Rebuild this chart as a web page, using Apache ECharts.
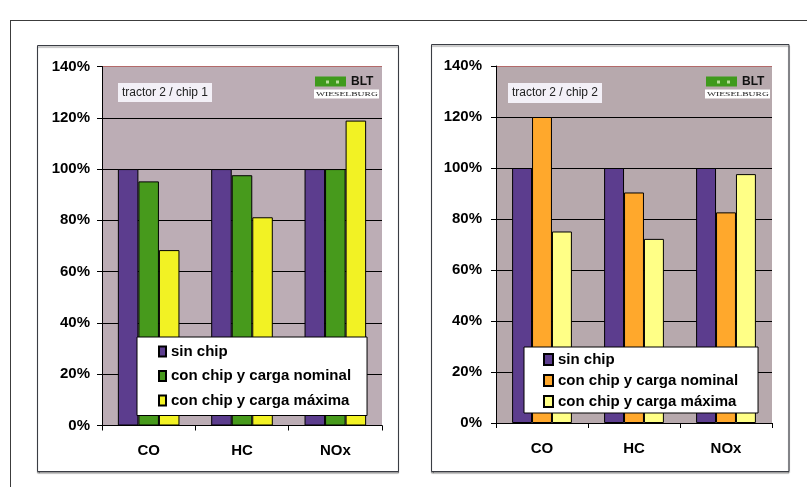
<!DOCTYPE html>
<html>
<head>
<meta charset="utf-8">
<script src="https://cdn.jsdelivr.net/npm/echarts@6/dist/echarts.min.js"></script>
<style>
  html, body { margin: 0; padding: 0; background: #fff; }
  #page { position: relative; width: 807px; height: 487px; overflow: hidden; }
  #frame { position: absolute; left: 10px; top: 20px; width: 900px; height: 600px;
           border: 1px solid #3c3c3c; box-sizing: border-box; }
  .chart { position: absolute; left: 0; top: 0; width: 807px; height: 487px; }
</style>
</head>
<body>
<div id="page">
  <div id="frame"></div>
  <div id="c1" class="chart"></div>
  <div id="c2" class="chart"></div>
</div>
<script>
// Emission categories and series names
const categories = ['CO', 'HC', 'NOx'];
const seriesNames = ['sin chip', 'con chip y carga nominal', 'con chip y carga máxima'];

// Value axis (percent)
const yMin = 0;
const yMax = 140;
const yStep = 20;

// tractor 2 / chip 1
const chip1SinChip = [100, 100, 100];
const chip1Nominal = [95.2, 97.6, 100];
const chip1Maxima = [68.4, 81.2, 118.9];

// tractor 2 / chip 2
const chip2SinChip = [100, 100, 100];
const chip2Nominal = [120, 90.4, 82.6];
const chip2Maxima = [75.1, 72.2, 97.6];

const FONT = "'Liberation Sans', Arial, sans-serif";

function logo(x, y) {
  return {
    type: 'group', x: x, y: y, silent: true,
    children: [
      { type: 'rect', shape: { x: 0, y: 0, width: 31, height: 10 },
        style: { fill: '#3f9a1c' } },
      { type: 'rect', shape: { x: 11, y: 4, width: 3, height: 3 },
        style: { fill: '#b8dd9a' } },
      { type: 'rect', shape: { x: 21, y: 4, width: 3, height: 3 },
        style: { fill: '#b8dd9a' } },
      { type: 'text', x: 36, y: 5,
        style: { text: 'BLT', font: "bold 12px " + FONT, fill: '#111',
                 verticalAlign: 'middle', align: 'left' } },
      { type: 'rect', shape: { x: -1, y: 13, width: 65, height: 9 },
        style: { fill: '#ffffff' } },
      { type: 'text', x: 1, y: 18, scaleX: 1.6,
        style: { text: 'WIESELBURG', font: "6px 'Liberation Serif', 'Times New Roman', serif",
                 fill: '#222', verticalAlign: 'middle', align: 'left' } }
    ]
  };
}

function build(cfg) {
  const colors = cfg.colors;
  const values = cfg.values;
  return {
    animation: false,
    textStyle: { fontFamily: FONT },
    grid: {
      left: cfg.grid.left, top: cfg.grid.top, width: cfg.grid.width, height: cfg.grid.height,
      show: true, backgroundColor: cfg.plotBg, borderWidth: 0
    },
    xAxis: {
      type: 'category', data: categories,
      axisLine: { show: true, lineStyle: { color: '#000', width: 1 } },
      axisTick: { show: true, length: 5, lineStyle: { color: '#000' } },
      axisLabel: { color: '#000', fontSize: 15, fontWeight: 'bold', margin: 18, fontFamily: FONT }
    },
    yAxis: {
      type: 'value', min: yMin, max: yMax, interval: yStep,
      axisLine: { show: true, lineStyle: { color: '#000', width: 1 } },
      axisTick: { show: true, length: 5, lineStyle: { color: '#000' } },
      axisLabel: { color: '#000', fontSize: 15, fontWeight: 'bold', margin: cfg.yLabelMargin,
                   formatter: '{value}%', fontFamily: FONT },
      splitLine: { show: true, lineStyle: { color: ['#000', '#000', '#000', '#000', '#000', '#000', '#000', '#b36a6a'], width: 1 } }
    },
    legend: {
      orient: 'vertical', left: cfg.legend.left, top: cfg.legend.top,
      padding: cfg.legend.padding, itemGap: cfg.legend.gap,
      itemWidth: cfg.legend.iw, itemHeight: cfg.legend.ih,
      icon: 'rect',
      backgroundColor: '#ffffff', borderColor: '#000', borderWidth: 1,
      data: seriesNames,
      textStyle: { color: '#000', fontSize: 15, fontWeight: 'bold', lineHeight: 15, fontFamily: FONT }
    },
    series: seriesNames.map(function (name, i) {
      return {
        name: name, type: 'bar', data: values[i],
        barGap: '0%', barCategoryGap: cfg.catGap,
        itemStyle: { color: colors[i], borderColor: '#000', borderWidth: 1 },
        emphasis: { disabled: true }
      };
    }),
    graphic: [
      { type: 'rect', z: -10, silent: true,
        shape: { x: cfg.panel[0], y: cfg.panel[1], width: cfg.panel[2], height: cfg.panel[3] },
        style: { fill: '#fff', stroke: '#3a3d44', lineWidth: 1,
                 shadowColor: 'rgba(0,0,0,0.45)', shadowOffsetY: 1.5, shadowOffsetX: 0, shadowBlur: 1 } },
      { type: 'rect', silent: true, z: 50,
        shape: { x: cfg.tag[0], y: cfg.tag[1], width: cfg.tag[2], height: cfg.tag[3] },
        style: { fill: '#f3f0f7' } },
      { type: 'text', silent: true, z: 51,
        x: cfg.tag[0] + cfg.tag[2] / 2, y: cfg.tag[1] + cfg.tag[3] / 2,
        style: { text: cfg.title, font: '12px ' + FONT, fill: '#222',
                 align: 'center', verticalAlign: 'middle' } },
      Object.assign(logo(cfg.logo[0], cfg.logo[1]), { z: 50 })
    ]
  };
}

const chart1 = echarts.init(document.getElementById('c1'), null, { renderer: 'canvas' });
chart1.setOption(build({
  title: 'tractor 2 / chip 1',
  values: [chip1SinChip, chip1Nominal, chip1Maxima],
  colors: ['#5c3d8e', '#479a1c', '#f2f224'],
  plotBg: '#bcadb5',
  grid: { left: 102, top: 66.5, width: 280, height: 359 },
  yLabelMargin: 12,
  catGap: '34%',
  legend: { left: 137, top: 337, padding: [7, 16, 7.5, 21], gap: 9.5, iw: 7, ih: 10 },
  panel: [37.5, 45.5, 361, 426],
  tag: [118, 83, 94, 19],
  logo: [315, 76.5]
}));

const chart2 = echarts.init(document.getElementById('c2'), null, { renderer: 'canvas' });
chart2.setOption(build({
  title: 'tractor 2 / chip 2',
  values: [chip2SinChip, chip2Nominal, chip2Maxima],
  colors: ['#5c3d8e', '#ffa82c', '#ffff86'],
  plotBg: '#b7a9ad',
  grid: { left: 496, top: 66, width: 276, height: 357 },
  yLabelMargin: 14,
  catGap: '35%',
  legend: { left: 524, top: 347, padding: [5, 20, 4, 19], gap: 6, iw: 9, ih: 11 },
  panel: [431.5, 44.5, 357.5, 427],
  tag: [508, 83, 94, 20],
  logo: [706, 76.5]
}));
</script>
</body>
</html>
